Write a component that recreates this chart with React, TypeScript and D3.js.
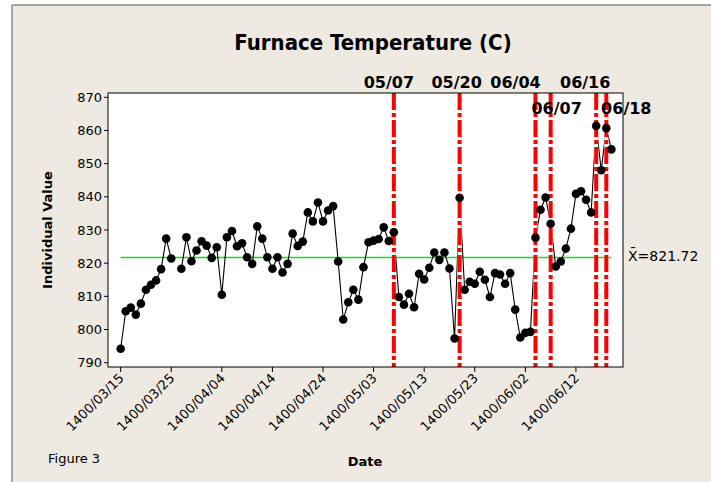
import React from 'react';
import * as d3 from 'd3';

// daily furnace temperature, 1400/03/15 .. 1400/06/19 (index 11 missing)
const temps: (number | null)[] = [
  794.2, 805.5, 806.6, 804.5, 807.8, 812.0, 813.5, 814.8, 818.2, 827.4,
  821.4, null, 818.3, 827.8, 820.6, 823.8, 826.6, 825.3, 821.6, 824.8,
  810.5, 827.8, 829.7, 825.1, 826.0, 821.8, 819.8, 831.1, 827.4, 821.8,
  818.3, 821.8, 817.2, 819.8, 828.9, 825.2, 826.5, 835.3, 832.6, 838.3,
  832.6, 835.9, 837.2, 820.5, 803.0, 808.2, 812.0, 809.0, 818.8, 826.3,
  826.8, 827.3, 830.8, 826.7, 829.3, 809.8, 807.5, 810.8, 806.7, 816.8,
  815.1, 818.6, 823.2, 821.0, 823.2, 818.4, 797.3, 839.7, 812.0, 814.4,
  813.8, 817.4, 815.0, 809.8, 817.0, 816.6, 813.8, 817.0, 806.0, 797.6,
  799.0, 799.3, 827.7, 836.1, 839.8, 831.9, 819.0, 820.5, 824.4, 830.4,
  840.9, 841.7, 839.1, 835.3, 861.4, 848.0, 860.7, 854.3,
];

const meanValue = 821.72;

const yTicks = [790, 800, 810, 820, 830, 840, 850, 860, 870];
const xTickIdx = [0, 10, 20, 30, 40, 50, 60, 70, 80, 90];
const xTickLabels = [
  '1400/03/15', '1400/03/25', '1400/04/04', '1400/04/14', '1400/04/24',
  '1400/05/03', '1400/05/13', '1400/05/23', '1400/06/02', '1400/06/12',
];

// reference lines (date markers)
const eventIdx = [54, 67, 82, 85, 94, 96];
const eventLabels = ['05/07', '05/20', '06/04', '06/07', '06/16', '06/18'];
const eventRow = [0, 0, 0, 1, 0, 1];
const eventShift = [-5, -3, -20, 6, -11, 20];

const W = 711;
const H = 482;
const plot = { left: 108, right: 623, top: 93, bottom: 367 };

export default function App() {
  const x = d3.scaleLinear().domain([-2.5, 99.3]).range([plot.left, plot.right]);
  const y = d3.scaleLinear().domain([788.7, 871.3]).range([plot.bottom, plot.top]);

  const pts = temps.map((v, i) => ({ i, v }));
  const line = d3.line<{ i: number; v: number | null }>()
    .defined((d) => d.v !== null)
    .x((d) => x(d.i))
    .y((d) => y(d.v as number));

  const axisFont = 'DejaVu Sans, Verdana, sans-serif';

  return (
    <svg width={W} height={H} style={{ position: 'absolute', left: 0, top: 0, display: 'block' }}>
      <rect x={0} y={0} width={W} height={H} fill="#ffffff" />
      <rect x={12} y={5} width={W - 12} height={H - 5} fill="#eeeae1" />
      <line x1={12} y1={5} x2={W} y2={5} stroke="#8a8a8a" strokeWidth={1.5} />
      <line x1={12} y1={5} x2={12} y2={H} stroke="#8a8a8a" strokeWidth={1.5} />

      <text x={373} y={50} textAnchor="middle" fontFamily="DejaVu Sans Condensed, DejaVu Sans, sans-serif"
        fontWeight="bold" fontSize={22}>Furnace Temperature (C)</text>

      <rect x={plot.left} y={plot.top} width={plot.right - plot.left} height={plot.bottom - plot.top} fill="#ffffff" />

      {/* mean line */}
      <line x1={x(0)} x2={x(temps.length - 1)} y1={y(meanValue)} y2={y(meanValue)} stroke="#12e012" strokeWidth={1.5} />

      <path d={line(pts) || ''} fill="none" stroke="#000" strokeWidth={1.1} />

      {/* date marker lines */}
      {eventIdx.map((d, k) => (
        <g key={'ev' + k}>
          <line x1={x(d)} x2={x(d)} y1={plot.top} y2={plot.bottom} stroke="#ffffff" strokeWidth={4} />
          <line x1={x(d)} x2={x(d)} y1={plot.top} y2={plot.bottom} stroke="#ff0000" strokeWidth={4}
            strokeDasharray="17,3,4,3" />
          <text x={x(d) + eventShift[k]} y={eventRow[k] === 0 ? 88 : 114} textAnchor="middle"
            fontFamily={axisFont} fontWeight="bold" fontSize={16}>{eventLabels[k]}</text>
        </g>
      ))}

      {pts.filter((d) => d.v !== null).map((d) => (
        <circle key={'p' + d.i} cx={x(d.i)} cy={y(d.v as number)} r={4.3} fill="#000" />
      ))}

      <rect x={plot.left} y={plot.top} width={plot.right - plot.left} height={plot.bottom - plot.top}
        fill="none" stroke="#000" strokeWidth={1} />

      {/* y axis */}
      {yTicks.map((t) => (
        <g key={'y' + t}>
          <line x1={plot.left - 4} x2={plot.left} y1={y(t)} y2={y(t)} stroke="#000" />
          <text x={plot.left - 6} y={y(t) + 4.5} textAnchor="end" fontFamily={axisFont} fontSize={13}>{t}</text>
        </g>
      ))}
      <text transform={`translate(52,${(plot.top + plot.bottom) / 2}) rotate(-90)`} textAnchor="middle"
        fontFamily={axisFont} fontWeight="bold" fontSize={13}>Individual Value</text>

      {/* x axis */}
      {xTickIdx.map((t, k) => (
        <g key={'x' + t}>
          <line x1={x(t)} x2={x(t)} y1={plot.bottom} y2={plot.bottom + 5} stroke="#000" />
          <text transform={`translate(${x(t) + 4},${plot.bottom + 12}) rotate(-45)`} textAnchor="end"
            fontFamily={axisFont} fontSize={13}>{xTickLabels[k]}</text>
        </g>
      ))}
      <text x={365} y={466} textAnchor="middle" fontFamily={axisFont} fontWeight="bold" fontSize={13}>Date</text>
      <text x={48} y={463} fontFamily={axisFont} fontSize={13}>Figure 3</text>

      <text x={628} y={261} fontFamily={axisFont} fontSize={14}>{'X\u0304=821.72'}</text>
    </svg>
  );
}
